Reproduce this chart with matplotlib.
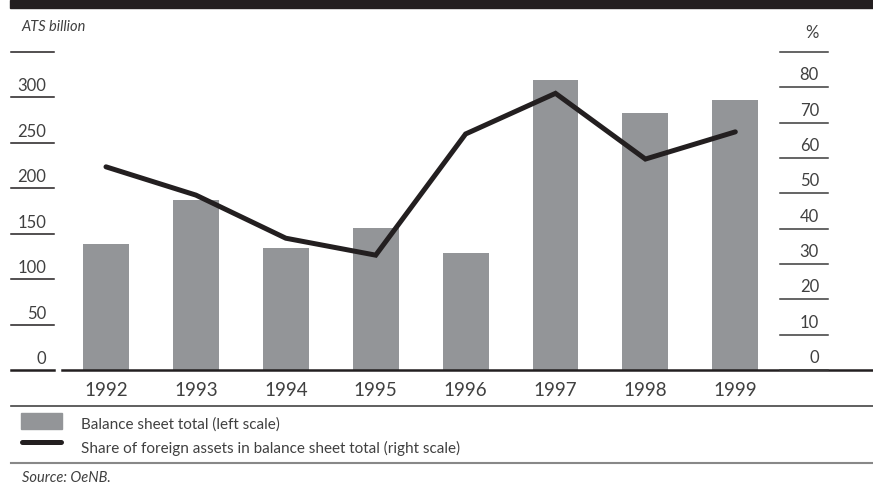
import numpy as np
import matplotlib
matplotlib.use('Agg')
from matplotlib import pyplot as plt
from matplotlib import transforms
from matplotlib.patches import Rectangle
from matplotlib.lines import Line2D

years = ['1992', '1993', '1994', '1995', '1996', '1997', '1998', '1999']
balance_total = [138.5, 187, 134, 156, 128.5, 319, 283, 297]     # ATS billion, left scale
foreign_share = [57.5, 49.5, 37.3, 32.5, 66.8, 78.3, 59.7, 67.4]  # %, right scale
left_ticks = [0, 50, 100, 150, 200, 250, 300, 350]
right_ticks = [0, 10, 20, 30, 40, 50, 60, 70, 80, 90]

plt.rcParams['font.family'] = ['Lato', 'DejaVu Sans']
BLACK = '#231f20'
GREY = '#939598'
TXT = '#404040'

W, H = 873, 486
fig = plt.figure(figsize=(W / 100, H / 100), dpi=100)

def fx(px):
    return px / W

def fy(py):
    return 1 - py / H

# plot area: x from 62 px to right edge, y from 52 px (top line) to 370 px (baseline)
ax = fig.add_axes([fx(62), fy(370), fx(W - 62), (370 - 52) / H])
x = np.arange(len(years))
ax.bar(x, balance_total, width=0.51, color=GREY, zorder=2)
ax.set_xlim((62 - 106) / 89.9, (W - 106) / 89.9)
ax.set_ylim(left_ticks[0], left_ticks[-1])
for s in ['top', 'left', 'right']:
    ax.spines[s].set_visible(False)
ax.spines['bottom'].set_color(BLACK)
ax.spines['bottom'].set_linewidth(1.8)
ax.set_yticks([])
ax.set_xticks(x)
ax.set_xticklabels(years, fontsize=13.5, color=TXT)
ax.tick_params(axis='x', length=0, pad=9)

ax2 = ax.twinx()
ax2.set_ylim(right_ticks[0], right_ticks[-1])
ax2.plot(x, foreign_share, color=BLACK, lw=3.6, solid_capstyle='round',
         solid_joinstyle='miter', zorder=3)
ax2.axis('off')

# left scale: short rules with the value sitting above each rule
tl = transforms.blended_transform_factory(fig.transFigure, ax.transData)
tl_txt = transforms.offset_copy(tl, fig=fig, y=6, units='dots')
for v in left_ticks:
    ax.plot([fx(11), fx(54)], [v, v], transform=tl, color=BLACK,
            lw=1.8 if v == 0 else 1.1, clip_on=False)
    if v != left_ticks[-1]:
        ax.text(fx(46), v, str(v), transform=tl_txt, ha='right', va='baseline',
                fontsize=12, color=TXT)

# right scale
tr = transforms.blended_transform_factory(fig.transFigure, ax2.transData)
tr_txt = transforms.offset_copy(tr, fig=fig, y=7, units='dots')
for v in right_ticks:
    ax2.plot([fx(780), fx(828)], [v, v], transform=tr, color='#3a3a3a',
             lw=1.1, clip_on=False)
    if v != right_ticks[-1]:
        ax2.text(fx(819), v, str(v), transform=tr_txt, ha='right', va='baseline',
                 fontsize=12, color=TXT)

# header bar and unit labels
fig.patches.append(Rectangle((fx(10), fy(8.5)), fx(W - 10), 8.5 / H,
                             transform=fig.transFigure, color=BLACK))
fig.text(fx(21), fy(31), 'ATS billion', fontsize=10.5, style='italic',
         color=TXT, va='baseline')
fig.text(fx(819), fy(38), '%', fontsize=12, color=TXT, ha='right',
         va='baseline')

# separators
fig.add_artist(Line2D([fx(11), 1], [fy(406), fy(406)], color='#444444', lw=1.2))
fig.add_artist(Line2D([fx(11), 1], [fy(462.5), fy(462.5)], color='#888888', lw=1.5))

# legend
fig.patches.append(Rectangle((fx(21), fy(429)), fx(41), 16 / H,
                             transform=fig.transFigure, color=GREY))
fig.add_artist(Line2D([fx(22), fx(61)], [fy(442), fy(442)], color=BLACK,
                      lw=3.6, solid_capstyle='round'))
fig.text(fx(81), fy(428.5), 'Balance sheet total (left scale)', fontsize=11,
         color=TXT, va='baseline')
fig.text(fx(81), fy(453), 'Share of foreign assets in balance sheet total (right scale)',
         fontsize=11, color=TXT, va='baseline')

fig.text(fx(22), fy(482), 'Source: OeNB.', fontsize=10.5, style='italic',
         color=TXT, va='baseline')

fig.savefig('out.png', dpi=100)
